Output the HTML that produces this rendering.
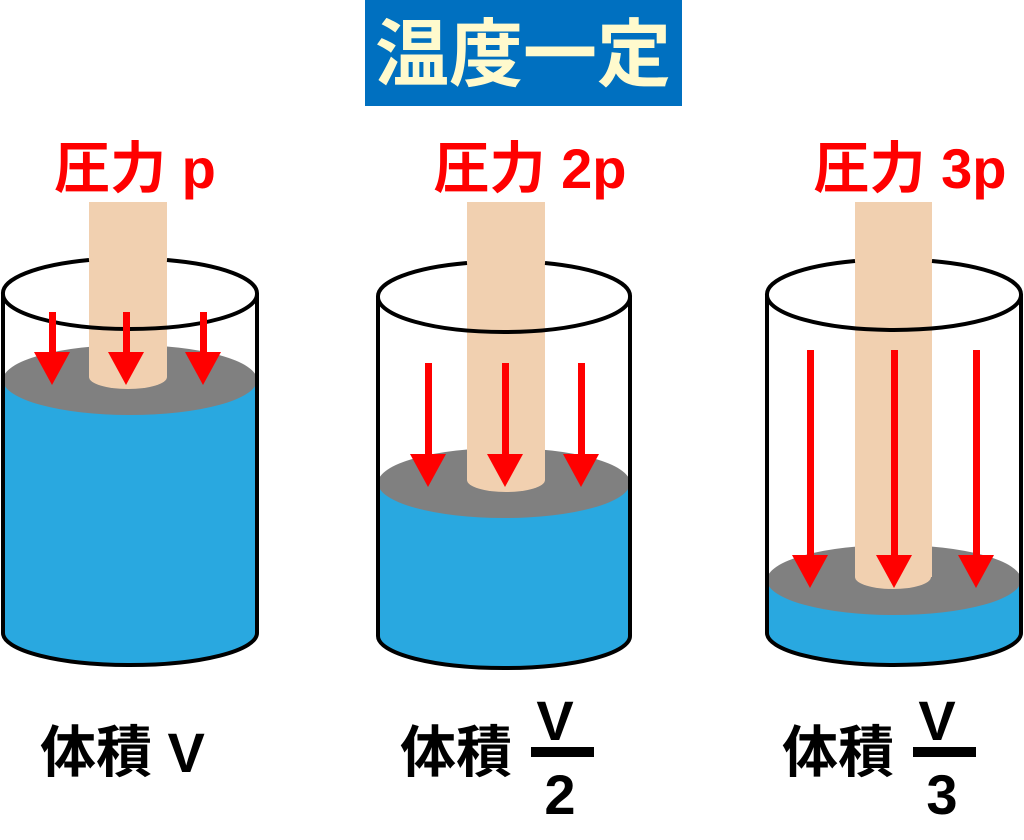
<!DOCTYPE html>
<html><head><meta charset="utf-8"><style>
html,body{margin:0;padding:0;background:#fff;}
svg{display:block;}
text{font-family:"Liberation Sans","Noto Sans CJK JP",sans-serif;font-weight:bold;}
</style></head><body>
<svg width="1024" height="840" viewBox="0 0 1024 840" xmlns="http://www.w3.org/2000/svg">
<rect x="365" y="0" width="317" height="106" fill="#0070c0"/>
<text x="523" y="80" font-size="74" fill="#fffacd" text-anchor="middle">温度一定</text>

<text x="135" y="188" font-size="56" fill="#ff0000" text-anchor="middle">圧力 p</text>
<text x="530" y="188" font-size="56" fill="#ff0000" text-anchor="middle">圧力 2p</text>
<text x="910" y="188" font-size="56" fill="#ff0000" text-anchor="middle">圧力 3p</text>

<!-- cylinder 1 -->
<g>
<path d="M3,380 L3,633 A127,32 0 0 0 257,633 L257,380 Z" fill="#29a8e0"/>
<ellipse cx="130" cy="380" rx="127" ry="35" fill="#808080"/>
<rect x="89" y="202" width="78" height="175" fill="#f1d0b0"/>
<ellipse cx="128" cy="377" rx="39" ry="12" fill="#f1d0b0"/>
<path d="M3,294 L3,633 A127,32 0 0 0 257,633 L257,294" fill="none" stroke="#000" stroke-width="4"/>
<path d="M89,260 A127,35 0 0 0 3,294 A127,35 0 0 0 257,294 A127,35 0 0 0 167,260" fill="none" stroke="#000" stroke-width="4"/>
<g fill="#ff0000">
<rect x="49" y="312" width="7" height="42"/><polygon points="34,352 70,352 52,385"/>
<rect x="123" y="312" width="7" height="42"/><polygon points="108,352 144,352 126,385"/>
<rect x="200" y="312" width="7" height="42"/><polygon points="185,352 221,352 203,385"/>
</g>
</g>

<!-- cylinder 2 -->
<g>
<path d="M378,483 L378,636 A126,32 0 0 0 630,636 L630,483 Z" fill="#29a8e0"/>
<ellipse cx="504" cy="483" rx="126" ry="35" fill="#808080"/>
<rect x="467" y="202" width="78" height="278" fill="#f1d0b0"/>
<ellipse cx="506" cy="480" rx="39" ry="12" fill="#f1d0b0"/>
<path d="M378,297 L378,636 A126,32 0 0 0 630,636 L630,297" fill="none" stroke="#000" stroke-width="4"/>
<path d="M467,263 A126,35 0 0 0 378,297 A126,35 0 0 0 630,297 A126,35 0 0 0 545,263" fill="none" stroke="#000" stroke-width="4"/>
<g fill="#ff0000">
<rect x="425" y="363" width="7" height="93"/><polygon points="410,454 446,454 428,487"/>
<rect x="502" y="363" width="7" height="93"/><polygon points="487,454 523,454 505,487"/>
<rect x="578" y="363" width="7" height="93"/><polygon points="563,454 599,454 581,487"/>
</g>
</g>

<!-- cylinder 3 -->
<g>
<path d="M767,580 L767,633 A127,32 0 0 0 1021,633 L1021,580 Z" fill="#29a8e0"/>
<ellipse cx="894" cy="580" rx="127" ry="35" fill="#808080"/>
<rect x="855" y="202" width="77" height="375" fill="#f1d0b0"/>
<ellipse cx="893" cy="577" rx="38" ry="12" fill="#f1d0b0"/>
<path d="M767,295 L767,633 A127,32 0 0 0 1021,633 L1021,295" fill="none" stroke="#000" stroke-width="4"/>
<path d="M855,261 A127,35 0 0 0 767,295 A127,35 0 0 0 1021,295 A127,35 0 0 0 932,261" fill="none" stroke="#000" stroke-width="4"/>
<g fill="#ff0000">
<rect x="807" y="350" width="7" height="207"/><polygon points="792,555 828,555 810,588"/>
<rect x="891" y="350" width="7" height="207"/><polygon points="876,555 912,555 894,588"/>
<rect x="973" y="350" width="7" height="207"/><polygon points="958,555 994,555 976,588"/>
</g>
</g>

<!-- bottom labels -->
<text x="40" y="772" font-size="56" fill="#000">体積 V</text>
<text x="400" y="772" font-size="56" fill="#000">体積</text>
<text x="555" y="740" font-size="56" fill="#000" text-anchor="middle">V</text>
<rect x="531" y="747" width="63" height="10" fill="#000"/>
<text x="560" y="814" font-size="56" fill="#000" text-anchor="middle">2</text>
<text x="782" y="772" font-size="56" fill="#000">体積</text>
<text x="937" y="740" font-size="56" fill="#000" text-anchor="middle">V</text>
<rect x="913" y="747" width="63" height="10" fill="#000"/>
<text x="942" y="814" font-size="56" fill="#000" text-anchor="middle">3</text>
</svg>
</body></html>
